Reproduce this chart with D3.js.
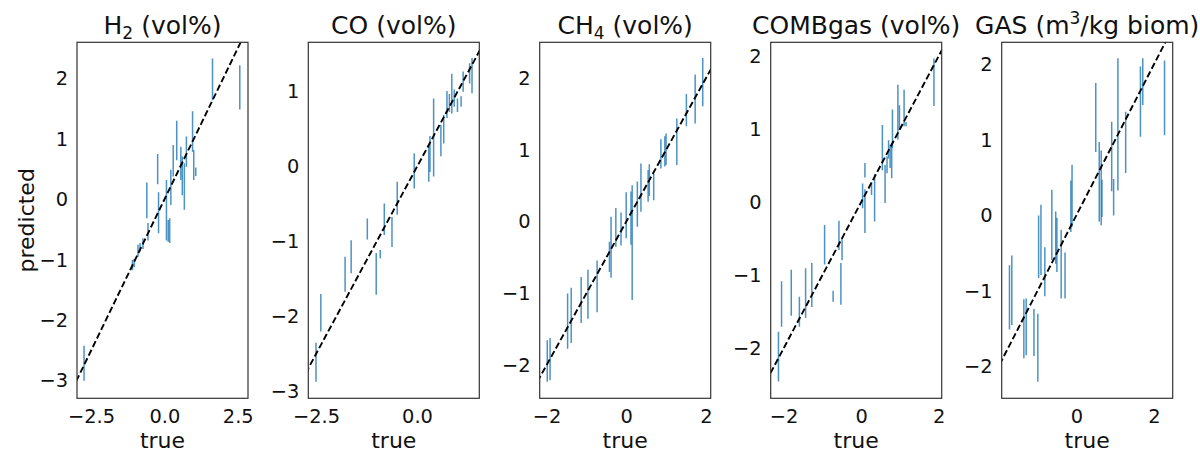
<!DOCTYPE html>
<html>
<head>
<meta charset="utf-8">
<script src="https://cdn.jsdelivr.net/npm/d3@7"></script>
<style>
  body { margin: 0; background: #fff; }
  text { font-family: "DejaVu Sans", sans-serif; fill: #111; }
</style>
</head>
<body>
<div id="graphic"></div>
<script>
// predicted vs true, one panel per target; bars are predicted low..high
const h2True = [-2.74, -1.09, -1.03, -0.90, -0.83, -0.73, -0.60, -0.56, -0.23, -0.20, 0.07, 0.13, 0.18, 0.22, 0.30, 0.42, 0.56, 0.61, 0.68, 0.75, 0.96, 1.00, 1.07, 1.64, 2.57]
const h2Lo   = [-3.00, -1.17, -1.12, -0.95, -0.86, -0.82, -0.31, -0.68, 0.25, -0.56, -0.68, -0.70, -0.72, -0.09, 0.38, 0.65, 0.32, 0.07, -0.17, 0.54, 0.79, 0.32, 0.39, 1.64, 1.49]
const h2Hi   = [-2.42, -1.00, -0.98, -0.75, -0.72, -0.64, 0.28, -0.39, 0.75, 0.12, 0.32, -0.34, -0.31, 0.49, 0.90, 1.30, 0.87, 0.71, 0.60, 1.04, 1.46, 0.82, 0.53, 2.33, 2.22]

const coTrue = [-2.50, -2.38, -1.78, -1.63, -1.23, -1.01, -0.91, -0.81, -0.62, -0.49, -0.07, 0.29, 0.32, 0.41, 0.59, 0.66, 0.74, 0.80, 0.86, 0.92, 1.00, 1.09, 1.14, 1.30, 1.36]
const coLo   = [-2.87, -2.20, -1.67, -1.42, -0.97, -1.71, -1.22, -0.91, -1.07, -0.64, -0.29, -0.20, -0.07, -0.13, 0.14, 0.31, 0.65, 0.73, 0.71, 0.80, 0.73, 0.80, 1.00, 1.11, 0.98]
const coHi   = [-2.35, -1.70, -1.20, -0.98, -0.69, -1.15, -1.11, -0.49, -0.67, -0.20, 0.18, 0.29, 0.41, 0.91, 0.56, 0.69, 1.01, 0.97, 1.24, 1.03, 0.91, 0.94, 1.27, 1.38, 1.45]

const ch4True = [-1.98, -1.91, -1.47, -1.38, -1.13, -0.96, -0.73, -0.42, -0.38, -0.26, -0.13, 0.00, 0.12, 0.15, 0.28, 0.37, 0.55, 0.58, 0.69, 0.87, 0.97, 1.00, 1.27, 1.51, 1.73, 1.92]
const ch4Lo   = [-2.23, -2.21, -1.77, -1.69, -1.41, -1.35, -1.26, -0.70, -0.78, -0.35, -0.33, -0.23, -0.32, -1.09, -0.07, 0.14, 0.28, 0.36, 0.30, 0.74, 0.77, 0.79, 0.79, 1.33, 1.37, 1.61]
const ch4Hi   = [-1.65, -1.62, -1.00, -0.92, -0.77, -0.67, -0.54, -0.28, 0.07, 0.19, 0.13, 0.41, 0.42, 0.51, 0.56, 0.81, 0.72, 0.80, 0.67, 1.15, 1.19, 1.23, 1.44, 1.78, 2.05, 2.28]

const combTrue = [-2.13, -2.05, -1.80, -1.59, -1.43, -1.27, -0.94, -0.72, -0.57, -0.52, -0.49, 0.04, 0.10, 0.10, 0.27, 0.35, 0.55, 0.62, 0.67, 0.71, 0.75, 0.79, 0.81, 0.95, 0.99, 1.11, 1.16, 1.88]
const combLo   = [-2.45, -1.70, -1.55, -1.70, -1.58, -1.43, -0.85, -1.36, -0.65, -1.40, -0.79, -0.08, 0.34, -0.42, 0.10, -0.26, 0.44, -0.01, 0.40, 0.60, 0.47, 0.33, 0.74, 0.86, 0.99, 1.04, 1.04, 1.32]
const combHi   = [-1.77, -1.08, -0.92, -1.29, -0.90, -0.83, -0.31, -1.21, -0.25, -0.83, -0.49, 0.26, 0.54, 0.18, 0.28, 0.39, 1.06, 0.51, 0.63, 0.85, 0.79, 0.81, 1.27, 1.61, 1.33, 1.54, 1.10, 1.97]

const gasTrue = [-1.72, -1.66, -1.35, -1.29, -1.09, -0.99, -0.97, -0.91, -0.81, -0.63, -0.53, -0.50, -0.39, -0.29, -0.14, -0.11, 0.50, 0.59, 0.64, 0.66, 0.91, 0.96, 1.07, 1.27, 1.65, 1.71, 2.27]
const gasLo   = [-1.51, -1.45, -1.89, -1.85, -1.86, -2.20, -0.83, -0.79, -1.07, -0.59, -0.64, -0.75, -1.10, -1.10, -0.22, -0.15, 0.84, -0.08, -0.13, -0.02, 0.32, 0.00, 0.33, 0.56, 1.04, 1.46, 1.06]
const gasHi   = [-0.66, -0.53, -1.11, -1.10, -1.24, -1.30, 0.00, 0.14, -0.42, 0.34, 0.05, -0.03, -0.19, -0.49, 0.46, 0.67, 1.75, 0.97, 0.86, 0.47, 1.24, 0.48, 2.08, 1.37, 1.97, 2.08, 2.05]

// axis limits as they appear in the picture
const xDomains = [[-2.98, 2.85], [-2.69, 1.54], [-2.17, 2.12], [-2.33, 2.08], [-1.92, 2.48]]
const yDomains = [[-3.29, 2.60], [-3.09, 1.66], [-2.46, 2.50], [-2.68, 2.19], [-2.42, 2.29]]

const xTicks = [[-2.5, 0, 2.5], [-2.5, 0], [-2, 0, 2], [-2, 0, 2], [0, 2]]
const yTicks = [[-3, -2, -1, 0, 1, 2], [-3, -2, -1, 0, 1], [-2, -1, 0, 1, 2], [-2, -1, 0, 1, 2], [-2, -1, 0, 1, 2]]
const xTickFormats = ['.1f', '.1f', 'd', 'd', 'd']

// title pieces: [text, 'sub' | 'sup' | '']
const titles = [
  [['H', ''], ['2', 'sub'], [' (vol%)', '']],
  [['CO (vol%)', '']],
  [['CH', ''], ['4', 'sub'], [' (vol%)', '']],
  [['COMBgas (vol%)', '']],
  [['GAS (m', ''], ['3', 'sup'], ['/kg biom)', '']]
]

const series = [
  [h2True, h2Lo, h2Hi],
  [coTrue, coLo, coHi],
  [ch4True, ch4Lo, ch4Hi],
  [combTrue, combLo, combHi],
  [gasTrue, gasLo, gasHi]
]

;(function () {
  var width = 1200
  var height = 452

  var lefts = [77, 308.3, 539.7, 770.7, 1001.7]
  var panelW = 171
  var top = 42.3
  var bottom = 398.3

  var svg = d3.select('#graphic')
    .append('svg')
    .attr('width', width)
    .attr('height', height)

  var minus = s => s.replace('-', '\u2212')

  series.forEach((s, i) => {
    var x = d3.scaleLinear().domain(xDomains[i]).range([lefts[i], lefts[i] + panelW])
    var y = d3.scaleLinear().domain(yDomains[i]).range([bottom, top])
    var g = svg.append('g')

    g.append('clipPath')
      .attr('id', 'clip' + i)
      .append('rect')
      .attr('x', lefts[i]).attr('y', top)
      .attr('width', panelW).attr('height', bottom - top)

    var plot = g.append('g').attr('clip-path', 'url(#clip' + i + ')')

    var bars = s[0].map((t, j) => ({ t: t, lo: s[1][j], hi: s[2][j] }))

    plot.selectAll('line.bar')
      .data(bars)
      .enter().append('line')
      .attr('class', 'bar')
      .attr('x1', d => x(d.t)).attr('x2', d => x(d.t))
      .attr('y1', d => y(d.lo)).attr('y2', d => y(d.hi))
      .attr('stroke', '#1f77b4')
      .attr('stroke-opacity', 0.8)
      .attr('stroke-width', 1.5)

    // y = x reference
    var lo = Math.min(xDomains[i][0], yDomains[i][0])
    var hi = Math.max(xDomains[i][1], yDomains[i][1])
    plot.append('line')
      .attr('x1', x(lo)).attr('y1', y(lo))
      .attr('x2', x(hi)).attr('y2', y(hi))
      .attr('stroke', '#000')
      .attr('stroke-width', 1.9)
      .attr('stroke-dasharray', '6.5,3')

    g.append('rect')
      .attr('x', lefts[i]).attr('y', top)
      .attr('width', panelW).attr('height', bottom - top)
      .attr('fill', 'none')
      .attr('stroke', '#333')
      .attr('stroke-width', 1.2)

    var xAxis = d3.axisBottom(x).tickValues(xTicks[i]).tickSize(0).tickPadding(0)
      .tickFormat(v => minus(d3.format(xTickFormats[i])(v)))
    var xg = g.append('g').attr('transform', 'translate(0,' + bottom + ')').call(xAxis)
    xg.select('.domain').remove()
    xg.selectAll('text')
      .attr('dy', null).attr('y', 25)
      .attr('fill', '#111')
      .style('font-size', '19.4px')

    var yAxis = d3.axisLeft(y).tickValues(yTicks[i]).tickSize(0).tickPadding(9)
      .tickFormat(v => minus(d3.format('d')(v)))
    var yg = g.append('g').attr('transform', 'translate(' + lefts[i] + ',0)').call(yAxis)
    yg.select('.domain').remove()
    yg.selectAll('text')
      .attr('fill', '#111')
      .style('font-size', '19.4px')

    g.append('text')
      .attr('x', lefts[i] + panelW / 2)
      .attr('y', 448)
      .attr('text-anchor', 'middle')
      .style('font-size', '22px')
      .text('true')

    var title = g.append('text')
      .attr('x', lefts[i] + panelW / 2)
      .attr('y', 34)
      .attr('text-anchor', 'middle')
      .style('font-size', '25px')

    titles[i].forEach((p, k) => {
      var ts = title.append('tspan').text(p[0])
      var prev = titles[i][k - 1]
      if (p[1] == 'sub') ts.attr('dy', 5).style('font-size', '17px')
      if (p[1] == 'sup') ts.attr('dy', -10).style('font-size', '17px')
      if (p[1] == '' && prev && prev[1] == 'sub') ts.attr('dy', -5)
      if (p[1] == '' && prev && prev[1] == 'sup') ts.attr('dy', 10)
    })
  })

  svg.append('text')
    .attr('transform', 'translate(34,' + (top + bottom) / 2 + ') rotate(-90)')
    .attr('text-anchor', 'middle')
    .style('font-size', '22px')
    .text('predicted')
})()
</script>
</body>
</html>
